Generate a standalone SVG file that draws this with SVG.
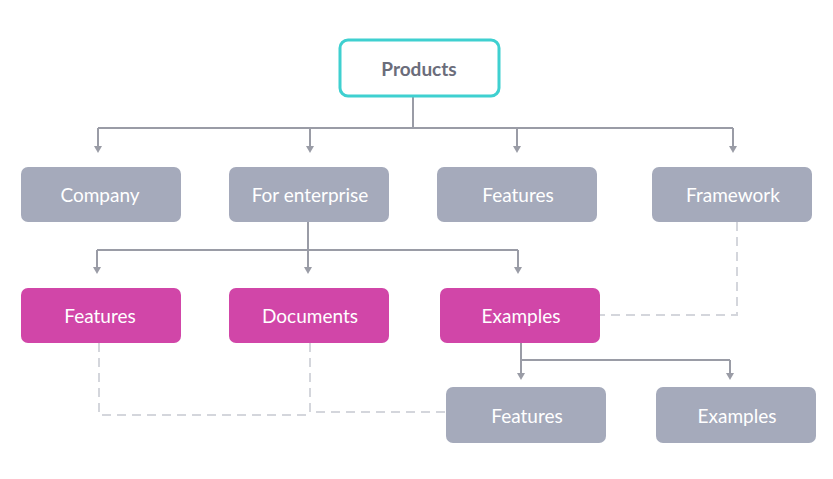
<svg xmlns="http://www.w3.org/2000/svg" width="833" height="479" viewBox="0 0 833 479">
<style>
.g{fill:#a5aabb}.m{fill:#d146a8}
text{font-family:Lato,"Liberation Sans",sans-serif;font-size:19px;fill:#fff;text-anchor:middle;dominant-baseline:central}
.c{fill:none;stroke:#9a9ca6;stroke-width:2}
.d{fill:none;stroke:#d4d6dc;stroke-width:2;stroke-dasharray:9 6}
</style>
<defs><marker id="a" markerWidth="8" markerHeight="8" refX="4" refY="6" orient="auto-start-reverse" markerUnits="userSpaceOnUse" viewBox="0 0 8 8"><path d="M0,0 L8,0 L4,7z" fill="#9a9ca6" transform="rotate(0)"/></marker></defs>
<rect width="833" height="479" fill="#fff"/>
<g id="connectors">
<path class="d" d="M737,222 V315 H600"/>
<path class="d" d="M99,343 V415 H310"/>
<path class="d" d="M310,343 V412 H446"/>
<path class="c" d="M413,97 V128 M98,128 H733"/>
<path class="c" d="M98,128 V150 M310,128 V150 M517,128 V150 M733,128 V150"/>
<path class="c" d="M308,222 V250 M97,250 H518 M97,250 V271 M308,250 V271 M518,250 V271"/>
<path class="c" d="M521,343 V360 H730 M521,360 V377 M730,360 V377"/>
<g fill="#9a9ca6">
<path d="M94,146 L102,146 L98,153z"/><path d="M306,146 L314,146 L310,153z"/><path d="M513,146 L521,146 L517,153z"/><path d="M729,146 L737,146 L733,153z"/>
<path d="M93,267 L101,267 L97,274z"/><path d="M304,267 L312,267 L308,274z"/><path d="M514,267 L522,267 L518,274z"/>
<path d="M517,373 L525,373 L521,380z"/><path d="M726,373 L734,373 L730,380z"/>
</g>
</g>
<g id="products"><rect x="340" y="40" width="159" height="56" rx="8" fill="#fff" stroke="#3fd0d0" stroke-width="3"/><text x="419" y="68" style="fill:#6b6d7b;font-weight:bold">Products</text></g>
<g id="company"><rect class="g" x="21" y="167" width="160" height="55" rx="7"/><text x="100" y="194">Company</text></g>
<g id="enterprise"><rect class="g" x="229" y="167" width="160" height="55" rx="7"/><text x="310" y="194">For enterprise</text></g>
<g id="features1"><rect class="g" x="437" y="167" width="160" height="55" rx="7"/><text x="518" y="194">Features</text></g>
<g id="framework"><rect class="g" x="652" y="167" width="160" height="55" rx="7"/><text x="733" y="194">Framework</text></g>
<g id="features2"><rect class="m" x="21" y="288" width="160" height="55" rx="7"/><text x="100" y="315">Features</text></g>
<g id="documents"><rect class="m" x="229" y="288" width="160" height="55" rx="7"/><text x="310" y="315">Documents</text></g>
<g id="examples1"><rect class="m" x="440" y="288" width="160" height="55" rx="7"/><text x="521" y="315">Examples</text></g>
<g id="features3"><rect class="g" x="446" y="387" width="160" height="56" rx="7"/><text x="527" y="415">Features</text></g>
<g id="examples2"><rect class="g" x="656" y="387" width="160" height="56" rx="7"/><text x="737" y="415">Examples</text></g>
</svg>
